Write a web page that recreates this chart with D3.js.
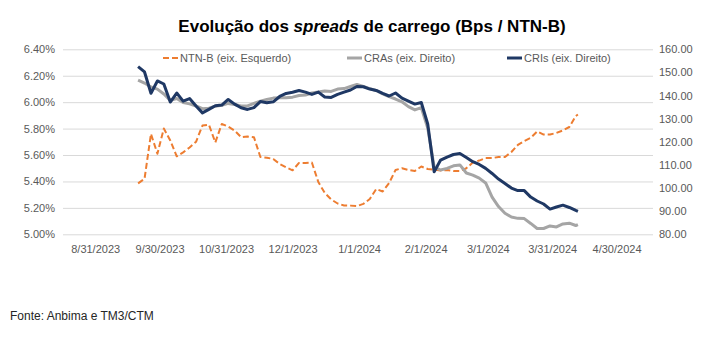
<!DOCTYPE html>
<html><head><meta charset="utf-8">
<script src="https://cdn.jsdelivr.net/npm/d3@7"></script>
<style>body{margin:0;background:#fff}svg{display:block}text{font-family:"Liberation Sans",Arial,sans-serif}</style>
</head><body><svg id="c" width="718" height="337"></svg>
<script>
const dates = ["2023-09-20","2023-09-23","2023-09-26","2023-09-29","2023-10-02","2023-10-05","2023-10-08","2023-10-11","2023-10-14","2023-10-17",
"2023-10-20","2023-10-23","2023-10-26","2023-10-29","2023-11-01","2023-11-04","2023-11-07","2023-11-10","2023-11-13","2023-11-16",
"2023-11-19","2023-11-22","2023-11-25","2023-11-28","2023-12-01","2023-12-04","2023-12-07","2023-12-10","2023-12-13","2023-12-16",
"2023-12-19","2023-12-22","2023-12-25","2023-12-28","2023-12-31","2024-01-03","2024-01-06","2024-01-09","2024-01-12","2024-01-15",
"2024-01-18","2024-01-21","2024-01-24","2024-01-27","2024-01-30","2024-02-02","2024-02-05","2024-02-08","2024-02-11","2024-02-14",
"2024-02-17","2024-02-20","2024-02-23","2024-02-26","2024-02-29","2024-03-03","2024-03-06","2024-03-09","2024-03-12","2024-03-15",
"2024-03-18","2024-03-21","2024-03-24","2024-03-27","2024-03-30","2024-04-02","2024-04-05","2024-04-08","2024-04-11","2024-04-12"];
const ntnb = [5.385,5.42,5.76,5.61,5.80,5.71,5.59,5.62,5.657,5.70,
5.823,5.83,5.695,5.835,5.815,5.785,5.735,5.74,5.735,5.585,
5.58,5.57,5.532,5.507,5.484,5.54,5.54,5.543,5.396,5.313,
5.264,5.233,5.218,5.217,5.214,5.23,5.267,5.343,5.324,5.388,
5.487,5.50,5.487,5.479,5.513,5.494,5.49,5.483,5.487,5.479,
5.479,5.50,5.543,5.558,5.577,5.577,5.585,5.585,5.623,5.676,
5.706,5.73,5.778,5.755,5.755,5.767,5.786,5.812,5.895,5.907];
const cras = [146.7,145.4,143.7,142.8,140.7,137.9,138.7,137.0,136.4,135.5,
134.3,134.5,135.4,135.8,136.6,136.1,135.5,135.5,136.6,137.6,
138.3,138.9,139.0,139.1,139.3,140.0,140.2,141.1,141.5,142.0,
141.8,142.8,143.0,143.9,144.8,143.9,143.0,142.2,140.7,139.5,
138.5,137.3,135.2,133.8,134.8,126.0,109.1,107.8,108.5,109.6,
110.0,106.5,105.6,104.3,102.2,96.1,92.0,89.1,87.5,86.9,
86.8,84.7,82.5,82.5,83.6,83.2,84.5,84.8,83.8,84.2];
const cris = [152.5,150.2,141.0,146.3,145.0,137.2,141.1,137.6,138.7,135.5,
132.5,134.0,135.6,135.9,138.3,136.3,134.7,134.0,134.8,137.4,
136.9,137.3,139.6,140.9,141.4,142.2,141.5,140.5,141.5,139.4,
139.2,140.5,141.5,142.4,143.9,143.8,142.8,142.2,140.9,139.8,
141.1,138.9,137.6,136.3,137.0,127.7,107.0,112.1,113.4,114.5,
114.9,113.2,111.4,110.2,108.5,106.3,103.9,102.0,100.0,98.9,
98.9,96.1,94.4,93.1,90.9,91.8,92.6,91.6,90.3,89.9];
const xTickDates = ["2023-08-31","2023-09-30","2023-10-31","2023-12-01","2024-01-01","2024-02-01","2024-03-01","2024-03-31","2024-04-30"];
const leftTicks = [5.0,5.2,5.4,5.6,5.8,6.0,6.2,6.4];
const rightTicks = [80,90,100,110,120,130,140,150,160];
const seriesNames = ["NTN-B (eix. Esquerdo)","CRAs (eix. Direito)","CRIs (eix. Direito)"];
const titleParts = ["Evolução dos ","spreads"," de carrego (Bps / NTN-B)"];
const sourceText = "Fonte: Anbima e TM3/CTM";

const parse = d3.timeParse("%Y-%m-%d");
const svg = d3.select("#c");
const L = 63, R = 653, T = 49.3, B = 234.3;
const x = d3.scaleTime().domain([parse("2023-08-16"), parse("2024-05-17")]).range([L, R]);
const yL = d3.scaleLinear().domain([5.0, 6.4]).range([B, T]);
const yR = d3.scaleLinear().domain([80, 160]).range([B, T]);
const col = {ntnb:"#ED7D31", cras:"#A5A5A5", cris:"#1F3864"};
const txt = "#595959";

// title
const title = svg.append("text").attr("x", 372).attr("y", 32).attr("text-anchor","middle")
  .attr("font-size", 17).attr("font-weight","bold").attr("fill","#000");
title.append("tspan").text(titleParts[0]);
title.append("tspan").attr("font-style","italic").text(titleParts[1]);
title.append("tspan").text(titleParts[2]);

// gridlines
const gLeft = d3.axisLeft(yL).tickValues(leftTicks).tickSize(-(R-L)).tickFormat(d => d3.format(".2f")(d) + "%");
const ga = svg.append("g").attr("transform", `translate(${L},0)`).call(gLeft);
ga.select(".domain").remove();
ga.selectAll(".tick line").attr("stroke","#D9D9D9").attr("stroke-width",1);
ga.selectAll(".tick text").attr("x",-8).attr("fill",txt).attr("font-size",11).attr("font-family","Liberation Sans, Arial, sans-serif");

const gRight = d3.axisRight(yR).tickValues(rightTicks).tickSize(0).tickFormat(d3.format(".2f"));
const gr = svg.append("g").attr("transform", `translate(${R},0)`).call(gRight);
gr.select(".domain").remove();
gr.selectAll(".tick text").attr("x",6).attr("fill",txt).attr("font-size",11).attr("font-family","Liberation Sans, Arial, sans-serif");

const gBottom = d3.axisBottom(x).tickValues(xTickDates.map(parse)).tickSize(0).tickFormat(d3.timeFormat("%-m/%-d/%Y"));
const gb = svg.append("g").attr("transform", `translate(0,${B})`).call(gBottom);
gb.select(".domain").remove();
gb.selectAll(".tick text").attr("y",11).attr("fill",txt).attr("font-size",11).attr("font-family","Liberation Sans, Arial, sans-serif");

// lines
const pts = dates.map(parse);
const lineL = d3.line().x((d,i)=>x(pts[i])).y(d=>yL(d));
const lineR = d3.line().x((d,i)=>x(pts[i])).y(d=>yR(d));
svg.append("path").datum(ntnb).attr("d", lineL).attr("fill","none").attr("stroke",col.ntnb)
  .attr("stroke-width",2).attr("stroke-dasharray","6,3").attr("stroke-linejoin","round");
svg.append("path").datum(cras).attr("d", lineR).attr("fill","none").attr("stroke",col.cras)
  .attr("stroke-width",3).attr("stroke-linejoin","round");
svg.append("path").datum(cris).attr("d", lineR).attr("fill","none").attr("stroke",col.cris)
  .attr("stroke-width",3).attr("stroke-linejoin","round");

// legend
const leg = [{n:seriesNames[0], c:col.ntnb, x:163, dash:"6,3", w:2},
             {n:seriesNames[1], c:col.cras, x:347, dash:null, w:3},
             {n:seriesNames[2], c:col.cris, x:507, dash:null, w:3}];
leg.forEach(l => {
  svg.append("line").attr("x1",l.x).attr("x2",l.x+15).attr("y1",58).attr("y2",58)
    .attr("stroke",l.c).attr("stroke-width",l.w).attr("stroke-dasharray",l.dash);
  svg.append("text").attr("x",l.x+17).attr("y",62).attr("font-size",11).attr("fill",txt).text(l.n);
});

// source
svg.append("text").attr("x",10).attr("y",320).attr("font-size",12).attr("fill","#262626").text(sourceText);
</script></body></html>
